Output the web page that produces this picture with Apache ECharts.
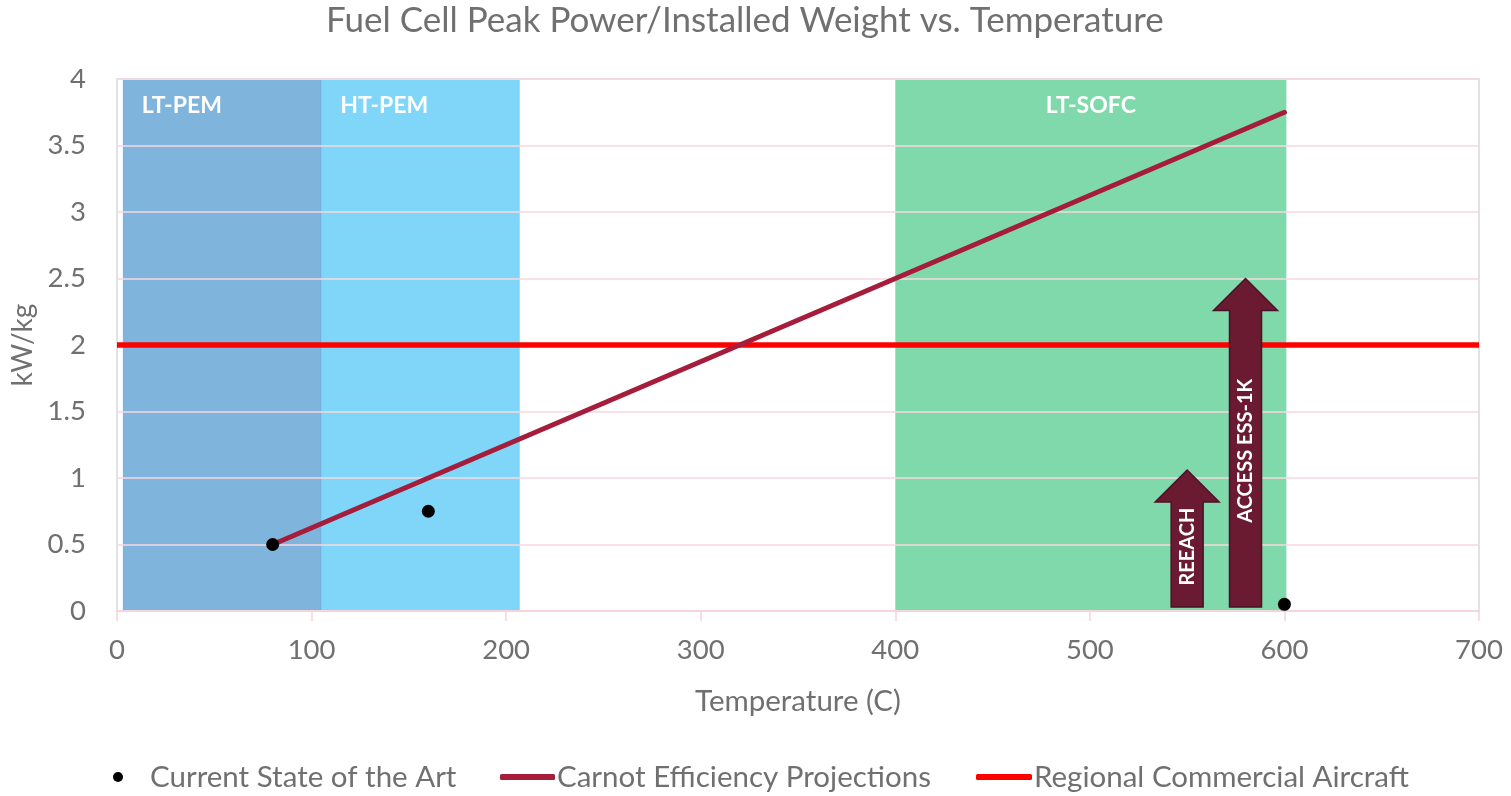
<!DOCTYPE html>
<html>
<head>
<meta charset="utf-8">
<title>Fuel Cell Peak Power/Installed Weight vs. Temperature</title>
<script src="https://cdn.jsdelivr.net/npm/echarts@6/dist/echarts.min.js"></script>
<style>
  html, body { margin: 0; padding: 0; background: #ffffff; }
  #chart { width: 1511px; height: 796px; }
</style>
</head>
<body>
<div id="chart"></div>
<script>
// Operating-temperature bands of the fuel cell families (°C)
const regionNames = ['LT-PEM', 'HT-PEM', 'LT-SOFC'];
const regionStart = [3, 105, 400];
const regionEnd = [105, 207, 601];

// Current state of the art (temperature °C, kW/kg)
const stateOfArtTemp = [80, 160, 600];
const stateOfArtPower = [0.5, 0.75, 0.05];

// Carnot efficiency projection
const carnotTemp = [80, 600];
const carnotPower = [0.5, 3.75];

// Regional commercial aircraft requirement
const regionalTemp = [0, 700];
const regionalPower = [2, 2];

// Development programs (arrow position and target kW/kg)
const programNames = ['REEACH', 'ACCESS ESS-1K'];
const programTemp = [550, 580];
const programPower = [1.06, 2.5];

// Axis ranges
const xMin = 0, xMax = 700, xStep = 100;
const yMin = 0, yMax = 4, yStep = 0.5;

const FONT = 'Lato, "Open Sans", sans-serif';
const TEXT_GREY = '#707070';

const regionStyle = {
  'LT-PEM':  { fill: '#7fb5dd', edge: '#58a5d6', align: 'left' },
  'HT-PEM':  { fill: '#80d6f8', edge: null,      align: 'left' },
  'LT-SOFC': { fill: '#80d9aa', edge: null,      align: 'center' }
};

const zip = (a, b) => a.map((v, i) => [v, b[i]]);

function renderRegion(params, api) {
  const name = regionNames[params.dataIndex];
  const st = regionStyle[name];
  const tl = api.coord([api.value(0), yMax]);
  const br = api.coord([api.value(1), yMin]);
  const children = [{
    type: 'rect',
    shape: { x: tl[0], y: tl[1], width: br[0] - tl[0], height: br[1] - tl[1] },
    style: { fill: st.fill }
  }];
  if (st.edge) {
    children.push({
      type: 'line',
      shape: { x1: br[0], y1: tl[1], x2: br[0], y2: br[1] },
      style: { stroke: st.edge, lineWidth: 1 }
    });
  }
  const tx = st.align === 'center' ? (tl[0] + br[0]) / 2 : tl[0] + 19;
  children.push({
    type: 'text',
    x: tx,
    y: tl[1] + 27,
    style: {
      text: name,
      fill: '#ffffff',
      font: 'bold 23px ' + FONT,
      align: st.align,
      verticalAlign: 'middle'
    }
  });
  return { type: 'group', children: children };
}

function renderArrow(params, api) {
  const base = api.coord([api.value(0), yMin]);
  const tip = api.coord([api.value(0), api.value(1)]);
  const cx = base[0];
  const bottom = base[1] - 4;
  const top = tip[1];
  const shaft = 16, head = 32, headH = 32;
  const points = [
    [cx - shaft, bottom], [cx - shaft, top + headH], [cx - head, top + headH],
    [cx, top], [cx + head, top + headH], [cx + shaft, top + headH], [cx + shaft, bottom]
  ];
  return {
    type: 'group',
    children: [
      {
        type: 'polygon',
        shape: { points: points },
        style: { fill: '#6a1a31', stroke: '#4a1226', lineWidth: 1.5 }
      },
      {
        type: 'text',
        x: cx,
        y: (top + headH + bottom) / 2 - 8,
        rotation: Math.PI / 2,
        style: {
          text: programNames[params.dataIndex],
          fill: '#ffffff',
          font: 'bold 20px ' + FONT,
          align: 'center',
          verticalAlign: 'middle'
        }
      }
    ]
  };
}

const chart = echarts.init(document.getElementById('chart'), null, { renderer: 'canvas' });

const legendText = { fontFamily: FONT, fontSize: 29.5, color: TEXT_GREY };

chart.setOption({
  backgroundColor: '#ffffff',
  animation: false,
  title: {
    text: 'Fuel Cell Peak Power/Installed Weight vs. Temperature',
    left: 326,
    top: 3,
    padding: 0,
    textStyle: { fontFamily: FONT, fontWeight: 'normal', fontSize: 35, color: TEXT_GREY }
  },
  grid: {
    left: 117, right: 32, top: 79, bottom: 185,
    show: true, borderColor: '#e2e2e2', borderWidth: 2, z: 2
  },
  legend: [
    {
      data: ['Current State of the Art'],
      left: 113, top: 762, padding: 0,
      icon: 'circle', itemWidth: 10, itemHeight: 10,
      itemStyle: { color: '#000000' },
      textStyle: Object.assign({ padding: [0, 0, 0, 22] }, legendText)
    },
    {
      data: ['Carnot Efficiency Projections'],
      left: 500, top: 762, padding: 0,
      icon: 'roundRect', itemWidth: 55, itemHeight: 6,
      textStyle: Object.assign({ padding: [0, 0, 0, -3] }, legendText)
    },
    {
      data: ['Regional Commercial Aircraft'],
      left: 976, top: 762, padding: 0,
      icon: 'roundRect', itemWidth: 56, itemHeight: 6,
      textStyle: Object.assign({ padding: [0, 0, 0, -3] }, legendText)
    }
  ],
  xAxis: {
    type: 'value',
    min: xMin, max: xMax, interval: xStep,
    name: 'Temperature (C)',
    nameLocation: 'middle',
    nameGap: 75,
    nameTextStyle: { fontFamily: FONT, fontSize: 29.5, color: TEXT_GREY },
    axisLine: { show: true, lineStyle: { color: '#f6d4db', width: 1.5 } },
    axisTick: { show: true, length: 10, lineStyle: { color: '#f6d4db', width: 1.5 } },
    axisLabel: { fontFamily: FONT, fontSize: 27.5, color: TEXT_GREY, margin: 25 },
    splitLine: { show: false },
    z: 2
  },
  yAxis: {
    type: 'value',
    min: yMin, max: yMax, interval: yStep,
    name: 'kW/kg',
    nameLocation: 'middle',
    nameGap: 80,
    nameTextStyle: { fontFamily: FONT, fontSize: 28, color: TEXT_GREY },
    axisLine: { show: false },
    axisTick: { show: false },
    axisLabel: { fontFamily: FONT, fontSize: 27.5, color: TEXT_GREY, margin: 31 },
    splitLine: { show: true, lineStyle: { color: '#f7d8de', width: 1.5 } },
    z: 2
  },
  series: [
    {
      name: 'bands',
      type: 'custom',
      z: 1,
      silent: true,
      renderItem: renderRegion,
      encode: { x: [0, 1] },
      data: zip(regionStart, regionEnd)
    },
    {
      name: 'Regional Commercial Aircraft',
      type: 'line',
      z: 3,
      data: zip(regionalTemp, regionalPower),
      symbol: 'none',
      color: '#ff0000',
      lineStyle: { color: '#ff0000', width: 5.5 }
    },
    {
      name: 'Carnot Efficiency Projections',
      type: 'line',
      z: 4,
      data: zip(carnotTemp, carnotPower),
      symbol: 'none',
      color: '#a61d3b',
      lineStyle: { color: '#a61d3b', width: 5, cap: 'round' }
    },
    {
      name: 'programs',
      type: 'custom',
      z: 5,
      silent: true,
      renderItem: renderArrow,
      encode: { x: 0, y: 1 },
      data: zip(programTemp, programPower)
    },
    {
      name: 'Current State of the Art',
      type: 'scatter',
      z: 6,
      data: zip(stateOfArtTemp, stateOfArtPower),
      symbol: 'circle',
      symbolSize: 13,
      color: '#000000',
      itemStyle: { color: '#000000', opacity: 1 }
    }
  ]
});
</script>
</body>
</html>
